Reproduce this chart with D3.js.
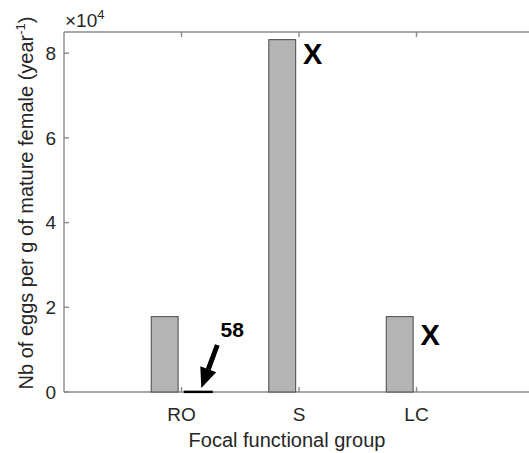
<!DOCTYPE html>
<html>
<head>
<meta charset="utf-8">
<script src="https://cdn.jsdelivr.net/npm/d3@7"></script>
<style>
    body { margin: 0; background: #fff; }
    svg { display: block; font-family: "Liberation Sans", Arial, sans-serif; }
</style>
</head>
<body>
<div id="container"></div>
<script>
// data
const groups = ["RO", "S", "LC"];
const seriesNames = ["a", "b"];
const valuesA = [17800, 83200, 17800];
const valuesB = [58, 0, 0];
const yTicks = [0, 20000, 40000, 60000, 80000];
const yTickLabels = ["0", "2", "4", "6", "8"];

// annotations: "X" marks over the missing second bars, and the 58 callout
const xMarkGroups = ["S", "LC"];
const xMarkValues = [80000, 13500];
const calloutGroup = "RO";
const calloutText = "58";

function drawChart() {
    const width = 529;
    const height = 453;
    const left = 64, right = 534, top = 32, bottom = 392;

    const svg = d3.create("svg")
        .attr("width", width)
        .attr("height", height);

    const x = d3.scaleBand()
        .domain(groups)
        .range([left, right])
        .paddingInner(0)
        .paddingOuter(0.5);

    const step = x.step();
    const xSub = d3.scaleBand()
        .domain(seriesNames)
        .range([-0.2857 * step, 0.2857 * step])
        .paddingInner(0.2)
        .paddingOuter(0.1);

    const y = d3.scaleLinear()
        .domain([0, 85000])
        .range([bottom, top]);

    const center = g => x(g) + x.bandwidth() / 2;

    const rows = [];
    groups.forEach((g, i) => {
        rows.push({ group: g, series: "a", value: valuesA[i] });
        rows.push({ group: g, series: "b", value: valuesB[i] });
    });

    // axes lines (box, right side falls outside the picture)
    const axisColor = "#8a8a8a";
    const textColor = "#262626";
    const axes = svg.append("g").attr("stroke", axisColor).attr("stroke-width", 1.4);
    axes.append("line").attr("x1", left).attr("x2", right).attr("y1", bottom).attr("y2", bottom);
    axes.append("line").attr("x1", left).attr("x2", right).attr("y1", top).attr("y2", top);
    axes.append("line").attr("x1", left).attr("x2", left).attr("y1", top).attr("y2", bottom);

    // bars
    svg.append("g")
        .selectAll("rect")
        .data(rows.filter(d => d.value > 0))
        .join("rect")
        .attr("x", d => center(d.group) + xSub(d.series))
        .attr("width", xSub.bandwidth())
        .attr("y", d => y(d.value))
        .attr("height", d => y(0) - y(d.value))
        .attr("fill", "#b4b4b4")
        .attr("stroke", d => d.value < 1000 ? "#000" : "#555")
        .attr("stroke-width", d => d.value < 1000 ? 2.2 : 1.1);

    // tick marks, pointing inwards
    axes.selectAll(".yt")
        .data(yTicks)
        .join("line")
        .attr("x1", left).attr("x2", left + 5)
        .attr("y1", d => y(d)).attr("y2", d => y(d));
    axes.selectAll(".xb")
        .data(groups)
        .join("line")
        .attr("x1", d => center(d)).attr("x2", d => center(d))
        .attr("y1", bottom).attr("y2", bottom - 5);
    axes.selectAll(".xt")
        .data(groups)
        .join("line")
        .attr("x1", d => center(d)).attr("x2", d => center(d))
        .attr("y1", top).attr("y2", top + 5);

    // tick labels
    svg.append("g")
        .selectAll("text")
        .data(yTicks)
        .join("text")
        .attr("x", left - 8)
        .attr("y", d => y(d))
        .attr("dy", "0.36em")
        .attr("text-anchor", "end")
        .attr("font-size", 19)
        .attr("fill", textColor)
        .text((d, i) => yTickLabels[i]);

    svg.append("g")
        .selectAll("text")
        .data(groups)
        .join("text")
        .attr("x", d => center(d))
        .attr("y", bottom + 29)
        .attr("text-anchor", "middle")
        .attr("font-size", 19)
        .attr("fill", textColor)
        .text(d => d);

    // exponent label
    const expo = svg.append("text")
        .attr("x", left + 1)
        .attr("y", 27)
        .attr("font-size", 19)
        .attr("fill", textColor);
    expo.append("tspan").text("\u00d710");
    expo.append("tspan").attr("dy", -8).attr("font-size", 13).text("4");

    // axis titles
    svg.append("text")
        .attr("x", 287)
        .attr("y", 447)
        .attr("text-anchor", "middle")
        .attr("font-size", 20)
        .attr("fill", textColor)
        .text("Focal functional group");

    const yl = svg.append("text")
        .attr("transform", "translate(33,203) rotate(-90)")
        .attr("text-anchor", "middle")
        .attr("font-size", 20)
        .attr("fill", textColor);
    yl.append("tspan").text("Nb of eggs per g of mature female (year");
    yl.append("tspan").attr("dy", -8).attr("font-size", 13).text("-1");
    yl.append("tspan").attr("dy", 8).text(")");

    // X marks
    svg.append("g")
        .selectAll("text")
        .data(xMarkGroups)
        .join("text")
        .attr("x", d => center(d) + xSub("b") + xSub.bandwidth() / 2 - 3)
        .attr("y", (d, i) => y(xMarkValues[i]))
        .attr("dy", "0.36em")
        .attr("text-anchor", "middle")
        .attr("font-size", 29)
        .attr("font-weight", "bold")
        .attr("fill", "#000")
        .text("X");

    // callout arrow for the tiny bar
    const bx = center(calloutGroup) + xSub("b") + xSub.bandwidth() / 2;
    const by = y(0);
    const tail = [bx + 19, by - 47];
    const tip = [bx + 3, by - 4];
    const ang = Math.atan2(tip[1] - tail[1], tip[0] - tail[0]);
    const headLen = 20, headW = 8.5;
    const base = [tip[0] - headLen * Math.cos(ang), tip[1] - headLen * Math.sin(ang)];

    svg.append("line")
        .attr("x1", tail[0]).attr("y1", tail[1])
        .attr("x2", base[0]).attr("y2", base[1])
        .attr("stroke", "#000")
        .attr("stroke-width", 5);

    svg.append("path")
        .attr("d", d3.line()([
            tip,
            [base[0] + headW * Math.sin(ang), base[1] - headW * Math.cos(ang)],
            [base[0] - headW * Math.sin(ang), base[1] + headW * Math.cos(ang)]
        ]) + "Z")
        .attr("fill", "#000");

    svg.append("text")
        .attr("x", bx + 34)
        .attr("y", by - 55)
        .attr("text-anchor", "middle")
        .attr("font-size", 21)
        .attr("font-weight", "bold")
        .attr("fill", "#000")
        .text(calloutText);

    document.getElementById("container").appendChild(svg.node());
}

drawChart();
</script>
</body>
</html>
